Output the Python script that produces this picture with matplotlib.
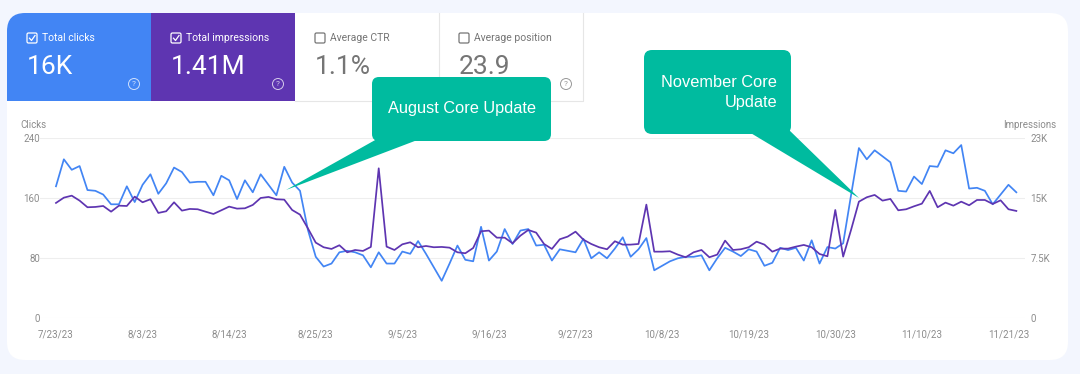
import numpy as np
import pandas as pd
import matplotlib
matplotlib.use("Agg")
import matplotlib.pyplot as plt
from matplotlib.patches import FancyBboxPatch, Rectangle, Polygon, Circle

W, H = 1080, 374
BG = "#f3f6fe"
BLUE = "#4285f4"
PURPLE = "#5e35b1"
TEAL = "#00bb9f"
GREY = "#8c8c8c"
plt.rcParams["font.family"] = ["Roboto", "DejaVu Sans"]

# daily values, 7/23/23 -> 11/22/23
clicks = [176, 212, 198, 203, 171, 170, 165, 152, 152, 176, 155, 178, 192, 166, 180, 201, 195, 181, 182, 182,
          164, 190, 184, 159, 184, 168, 192, 178, 164, 202, 181, 170, 118, 82, 69, 73, 88, 90, 88, 84,
          68, 88, 73, 73, 89, 86, 103, 86, 68, 50, 73, 97, 78, 76, 122, 77, 89, 119, 99, 117,
          119, 97, 98, 77, 92, 90, 88, 106, 80, 88, 80, 93, 108, 82, 92, 107, 64, 70, 76, 80,
          82, 82, 84, 64, 80, 94, 89, 83, 92, 89, 70, 74, 94, 91, 94, 77, 104, 73, 95, 93,
          100, 164, 227, 212, 224, 216, 208, 170, 169, 189, 179, 203, 202, 224, 220, 231, 173, 174, 170, 152,
          165, 178, 168]
impressions = [14420, 15080, 15330, 14710, 13880, 13920, 14040, 13330, 14080, 14040, 15210, 14500, 14880, 13170, 13380,
               14500, 13460, 13670, 13630, 13330, 13040, 13500, 13960, 13710, 13750, 14170, 15040, 15170, 14880, 14830,
               13540, 12960, 11250, 9460, 8880, 8670, 9130, 8250, 8540, 8420, 8920, 18750, 8960, 8540, 9250,
               9500, 8880, 9040, 8880, 8920, 8830, 8250, 8130, 8790, 10880, 10960, 10080, 10080, 9380, 10330,
               11040, 10710, 9290, 8670, 9880, 10210, 10830, 9830, 9290, 8880, 8630, 9630, 9210, 9210, 9290,
               14210, 8330, 8330, 8380, 7960, 7630, 8250, 8540, 7630, 7960, 9710, 8540, 8630, 8880, 9580,
               9210, 8330, 8710, 8710, 8960, 9170, 8880, 8040, 7750, 13540, 7710, 11040, 14580, 15130, 15420,
               14710, 14920, 13500, 13630, 14000, 14330, 15920, 13880, 14460, 14080, 14580, 14130, 14790, 14790, 14290,
               14750, 13630, 13420]
tick_days = [0, 11, 22, 33, 44, 55, 66, 77, 88, 99, 110, 121]
left_ticks = [0, 80, 160, 240]
right_ticks = [0, 7500, 15000, 22500]
right_labels = ["0", "7.5K", "15K", "23K"]

metric_names = ["Total clicks", "Total impressions", "Average CTR", "Average position"]
metric_values = ["16K", "1.41M", "1.1%", "23.9"]
metric_left = [7, 151, 295, 439]
metric_fill = [BLUE, PURPLE, "white", "white"]

dates = pd.date_range("2023-07-23", periods=len(clicks))
days = np.arange(len(clicks))
tick_labels = [f"{dates[d].month}/{dates[d].day}/23" for d in tick_days]

fig = plt.figure(figsize=(W / 100, H / 100), dpi=100, facecolor=BG)

# page furniture, in pixel coords
bg = fig.add_axes([0, 0, 1, 1], zorder=0)
bg.set_xlim(0, W); bg.set_ylim(H, 0); bg.axis("off")
card = FancyBboxPatch((7, 13), 1061, 347, boxstyle="round,pad=0,rounding_size=18",
                      fc="white", ec="none")
bg.add_patch(card)

for i, name in enumerate(metric_names):
    x0 = metric_left[i]
    on = i < 2
    fg = "white" if on else "#757575"
    r = Rectangle((x0, 13), 144, 88, fc=metric_fill[i], ec="none")
    bg.add_patch(r)
    r.set_clip_path(card)
    if not on:
        bg.plot([x0 + 144, x0 + 144, x0], [13, 101, 101], color="#e6e6e6", lw=0.8)
    bg.add_patch(FancyBboxPatch((x0 + 20, 33), 10, 10, boxstyle="round,pad=0,rounding_size=1.5",
                                fc="none", ec=fg, lw=0.9))
    if on:
        bg.plot([x0 + 22.5, x0 + 24.5, x0 + 28], [38.2, 40.5, 35.5], color="white", lw=0.9)
    bg.text(x0 + 35.5, 38, name, color=fg, fontsize=7.5, va="center", ha="left")
    bg.text(x0 + 20, 66.5, metric_values[i], color=fg, fontsize=19, va="center", ha="left")
    bg.add_patch(Circle((x0 + 127, 84), 5.5, fc="none", ec=fg, lw=0.7, alpha=0.75))
    bg.text(x0 + 127, 84, "?", color=fg, fontsize=6, va="center", ha="center", alpha=0.75)

bg.text(20, 125, "Clicks", color=GREY, fontsize=7, va="center", ha="left")
bg.text(1056, 125, "Impressions", color=GREY, fontsize=7, va="center", ha="right")

# the chart itself
ax = fig.add_axes([40 / W, (H - 318.3) / H, 985 / W, 180 / H], zorder=1)
ax.patch.set_alpha(0)
ax.set_xlim(-2.03, 123.1)
ax.set_ylim(0, 240)
ax.plot(days, clicks, color=BLUE, lw=1.25, solid_joinstyle="round")
ax.set_yticks(left_ticks)
ax.set_xticks(tick_days)
ax.set_xticklabels(tick_labels)
ax.grid(True, axis="y", color="#eeeeee", lw=0.8)
ax.set_axisbelow(True)
ax.tick_params(length=0, labelsize=7, labelcolor=GREY)
ax.tick_params(axis="x", pad=8)
ax.tick_params(axis="y", pad=0)

ax2 = ax.twinx()
ax2.set_zorder(2)
ax2.patch.set_alpha(0)
ax2.set_ylim(0, 22500)
ax2.plot(days, impressions, color=PURPLE, lw=1.25, solid_joinstyle="round")
ax2.set_yticks(right_ticks)
ax2.set_yticklabels(right_labels)
ax2.tick_params(length=0, labelsize=7, labelcolor=GREY, pad=4)
for a in (ax, ax2):
    for s in a.spines.values():
        s.set_visible(False)

# teal callouts on top
top = fig.add_axes([0, 0, 1, 1], zorder=3)
top.patch.set_alpha(0)
top.set_xlim(0, W); top.set_ylim(H, 0); top.axis("off")

top.add_patch(FancyBboxPatch((372, 77), 179, 64, boxstyle="round,pad=0,rounding_size=7", fc=TEAL, ec="none"))
top.add_patch(Polygon([(377, 139), (420, 139), (286, 190)], fc=TEAL, ec="none"))
top.text(462, 108.5, "August Core Update", color="white", fontsize=11.8, family="Liberation Sans",
         ha="center", va="center")

top.add_patch(FancyBboxPatch((644, 50), 147, 84, boxstyle="round,pad=0,rounding_size=8", fc=TEAL, ec="none"))
top.add_patch(Polygon([(749, 132), (787, 128), (859, 198)], fc=TEAL, ec="none"))
top.text(777, 82, "November Core", color="white", fontsize=11.8, family="Liberation Sans",
         ha="right", va="center")
top.text(777, 102, "Update", color="white", fontsize=11.8, family="Liberation Sans",
         ha="right", va="center")

fig.savefig("out.png", dpi=100, facecolor=BG)
plt.close(fig)
